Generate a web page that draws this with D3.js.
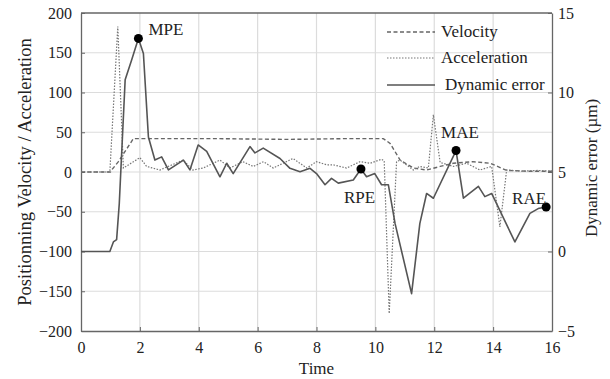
<!DOCTYPE html>
<html>
<head>
<meta charset="utf-8">
<script src="https://cdn.jsdelivr.net/npm/d3@7"></script>
<style>
  body { margin: 0; background: #fff; }
  svg text { font-family: "Liberation Serif", "Times New Roman", serif; fill: #222; }
</style>
</head>
<body>
<div id="chart"></div>
<script>
// time stamps and values
const velT = [0, 1.0, 1.04, 1.27, 1.78, 4.5, 7.0, 9.0, 10.27, 10.5, 10.84, 11.3, 11.74, 12.2, 12.65, 13.3, 13.9, 14.46, 15.2, 16]
const velV = [0, 0, 2.5, 13, 42, 42, 41, 42, 42, 36, 15, 5, 2.5, 7, 11, 13, 11, 2, 1, 1]

const accT = [0, 0.98, 1.25, 1.44, 2.0, 2.23, 2.68, 3.47, 3.8, 4.15, 4.72, 5.06, 5.5, 5.85, 6.2, 6.53, 7.2, 7.67, 8.0, 8.35, 8.57, 9.02, 9.48, 9.82, 10.21, 10.3, 10.47, 10.72, 10.84, 11.29, 11.5, 11.8, 11.97, 12.2, 12.65, 13.1, 13.55, 13.95, 14.23, 14.46, 15.0, 15.5, 16]
const accV = [0, 0, 183, 5, 18, 7, 2.5, 15, 2.5, 5, 15, 5, 13, 7, 13, 5, 17, 5, 13, 9, 9, 5, 13, 11, 16, 14, -178, 13, 15, 2.5, 7, 5, 72, 12, 7, 11, 2.5, 7, -69, 2.5, 1, 2, 1]

// dynamic error in µm (right axis)
const errT = [0, 0.98, 1.1, 1.21, 1.3, 1.5, 1.72, 1.95, 2.12, 2.29, 2.51, 2.74, 2.97, 3.48, 3.7, 3.98, 4.27, 4.72, 4.95, 5.17, 5.74, 5.91, 6.19, 6.76, 7.1, 7.44, 7.78, 8.0, 8.29, 8.51, 8.74, 9.25, 9.51, 9.7, 9.98, 10.21, 10.44, 10.67, 11.23, 11.51, 11.74, 11.97, 12.74, 12.99, 13.5, 13.72, 13.95, 14.74, 15.25, 15.53, 15.8]
const errV = [0, 0, 0.6, 0.75, 3.0, 10.8, 12.05, 13.4, 12.45, 7.2, 5.75, 5.95, 5.13, 5.75, 5.13, 6.7, 6.3, 4.7, 5.55, 4.9, 6.6, 6.2, 6.5, 5.85, 5.23, 5.02, 5.23, 4.9, 4.2, 4.6, 4.3, 4.5, 5.19, 4.7, 4.9, 4.2, 4.2, 1.75, -2.65, 1.75, 3.65, 3.35, 6.35, 3.35, 4.1, 3.45, 3.65, 0.6, 2.4, 2.7, 2.8]

const marks = [
    { name: 'MPE', t: 1.95, v: 13.4, dx: 10, dy: -3 },
    { name: 'RPE', t: 9.51, v: 5.19, dx: -17, dy: 34 },
    { name: 'MAE', t: 12.74, v: 6.35, dx: -15, dy: -13 },
    { name: 'RAE', t: 15.8, v: 2.8, dx: -34, dy: -3 }
]

const xTicks = [0, 2, 4, 6, 8, 10, 12, 14, 16]
const yTicks = [-200, -150, -100, -50, 0, 50, 100, 150, 200]
const y2Ticks = [-5, 0, 5, 10, 15]

const width = 610, height = 379
const pLeft = 81, pRight = 552, pTop = 13, pBottom = 331
const serif = '"Liberation Serif", "Times New Roman", serif'

const svg = d3.select('#chart').append('svg')
    .attr('width', width)
    .attr('height', height)

const x = d3.scaleLinear().domain([0, 16]).range([pLeft, pRight])
const y = d3.scaleLinear().domain([-200, 200]).range([pBottom, pTop])
const y2 = d3.scaleLinear().domain([-5, 15]).range([pBottom, pTop])

// grid
svg.append('g').selectAll('line')
    .data(xTicks.slice(1, -1))
    .enter().append('line')
    .attr('x1', d => x(d)).attr('x2', d => x(d))
    .attr('y1', pTop).attr('y2', pBottom)
    .attr('stroke', '#dcdcdc').attr('stroke-width', 1.2)

svg.append('g').selectAll('line')
    .data(yTicks.slice(1, -1))
    .enter().append('line')
    .attr('x1', pLeft).attr('x2', pRight)
    .attr('y1', d => y(d)).attr('y2', d => y(d))
    .attr('stroke', '#dcdcdc').attr('stroke-width', 1.2)

// axes
const axisStyle = g => {
    g.attr('font-family', serif)
    g.select('.domain').attr('stroke', '#666').attr('stroke-width', 1.3)
    g.selectAll('.tick line').attr('stroke', '#666')
    g.selectAll('.tick text').style('font-size', '16px').style('font-family', serif).attr('fill', '#222')
}

svg.append('g')
    .attr('transform', `translate(0, ${pBottom})`)
    .call(d3.axisBottom(x).tickValues(xTicks).tickSizeInner(-4).tickSizeOuter(0).tickPadding(11))
    .call(axisStyle)

svg.append('g')
    .attr('transform', `translate(${pLeft}, 0)`)
    .call(d3.axisLeft(y).tickValues(yTicks).tickSizeInner(-4).tickSizeOuter(0).tickPadding(9))
    .call(axisStyle)

svg.append('g')
    .attr('transform', `translate(${pRight}, 0)`)
    .call(d3.axisRight(y2).tickValues(y2Ticks).tickSizeInner(-4).tickSizeOuter(0).tickPadding(6))
    .call(axisStyle)

svg.append('line')
    .attr('x1', pLeft).attr('x2', pRight)
    .attr('y1', pTop).attr('y2', pTop)
    .attr('stroke', '#666').attr('stroke-width', 1.3)

// titles
svg.append('text')
    .text('Time')
    .attr('x', (pLeft + pRight) / 2)
    .attr('y', 374)
    .attr('text-anchor', 'middle')
    .style('font-size', '17px')

svg.append('text')
    .text('Positionning Velocity / Acceleration')
    .attr('transform', `translate(31, ${(pTop + pBottom) / 2}) rotate(-90)`)
    .attr('text-anchor', 'middle')
    .style('font-size', '18.5px')

svg.append('text')
    .text('Dynamic error (µm)')
    .attr('transform', `translate(597, 168) rotate(-90)`)
    .attr('text-anchor', 'middle')
    .style('font-size', '17px')

// lines
const zip = (ts, vs) => ts.map((t, i) => ({ t: t, v: vs[i] }))

const lineL = d3.line().x(d => x(d.t)).y(d => y(d.v))
const lineR = d3.line().x(d => x(d.t)).y(d => y2(d.v))

const plot = svg.append('g')

plot.append('path')
    .datum(zip(velT, velV))
    .attr('d', lineL)
    .attr('fill', 'none')
    .attr('stroke', '#666')
    .attr('stroke-width', 1.4)
    .attr('stroke-dasharray', '4,2.5')

plot.append('path')
    .datum(zip(accT, accV))
    .attr('d', lineL)
    .attr('fill', 'none')
    .attr('stroke', '#777')
    .attr('stroke-width', 1.2)
    .attr('stroke-dasharray', '1.5,1.5')

plot.append('path')
    .datum(zip(errT, errV))
    .attr('d', lineR)
    .attr('fill', 'none')
    .attr('stroke', '#555')
    .attr('stroke-width', 1.6)
    .attr('stroke-linejoin', 'round')

// key points
const pts = svg.append('g')
pts.selectAll('circle')
    .data(marks)
    .enter().append('circle')
    .attr('cx', d => x(d.t))
    .attr('cy', d => y2(d.v))
    .attr('r', 4.5)
    .attr('fill', '#000')

pts.selectAll('text')
    .data(marks)
    .enter().append('text')
    .text(d => d.name)
    .attr('x', d => x(d.t) + d.dx)
    .attr('y', d => y2(d.v) + d.dy)
    .style('font-size', '17px')

// legend
const legend = [
    { name: 'Velocity', dash: '4,2.5', w: 1.4, color: '#666', dx: 0, y: 32 },
    { name: 'Acceleration', dash: '1.5,1.5', w: 1.2, color: '#777', dx: 0, y: 58 },
    { name: 'Dynamic error', dash: null, w: 1.6, color: '#555', dx: 4, y: 85 }
]
const lg = svg.append('g')
lg.selectAll('line')
    .data(legend)
    .enter().append('line')
    .attr('x1', 387).attr('x2', 435)
    .attr('y1', d => d.y).attr('y2', d => d.y)
    .attr('stroke', d => d.color)
    .attr('stroke-width', d => d.w)
    .attr('stroke-dasharray', d => d.dash)

lg.selectAll('text')
    .data(legend)
    .enter().append('text')
    .text(d => d.name)
    .attr('x', d => 441 + d.dx)
    .attr('y', d => d.y + 5)
    .style('font-size', '17px')
</script>
</body>
</html>
